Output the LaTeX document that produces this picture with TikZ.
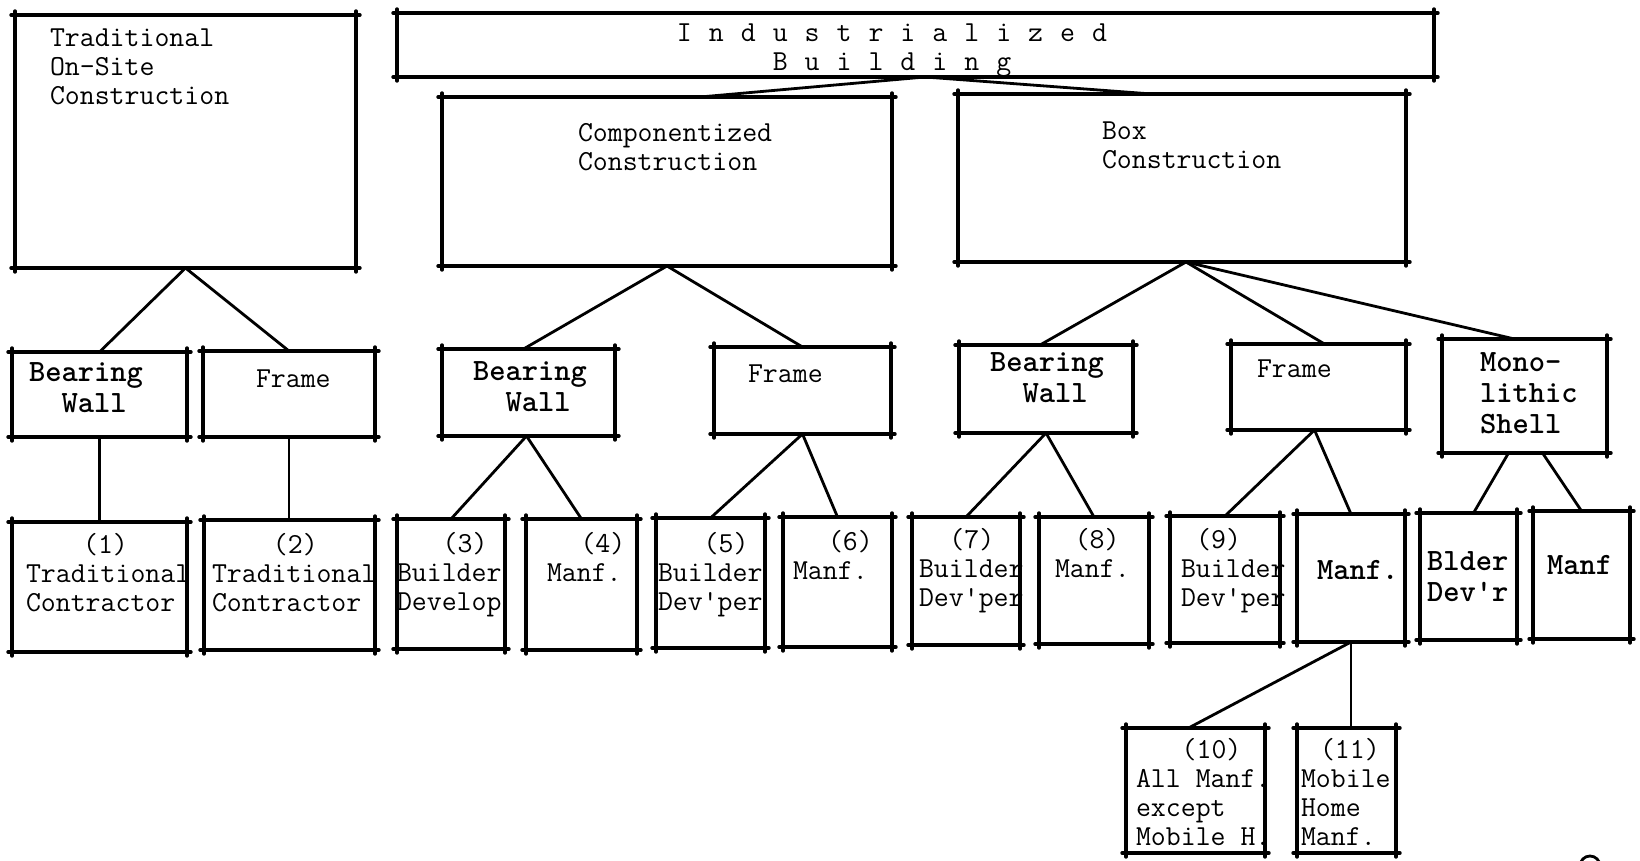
\documentclass[tikz,border=0pt]{standalone}
\usepackage{tikz}
\usetikzlibrary{fit}
\newcommand\tsp[1]{\hspace*{#1\dimexpr0.525em\relax}}
\newcommand\lsp{\hspace{17pt}}
\newcommand\qs{\textquotesingle}
\tikzset{
  frame/.style={line width=3.4pt, line cap=round},
  conn/.style={line width=2.8pt, line cap=round},
  tb/.style={inner sep=0pt, outer sep=0pt, draw=none,
    append after command={\pgfextra{\let\tbn\tikzlastnode}
      ([xshift=-4pt]\tbn.north west) edge[frame] ([xshift=4pt]\tbn.north east)
      ([xshift=-4pt]\tbn.south west) edge[frame] ([xshift=4pt]\tbn.south east)
      ([yshift=4pt]\tbn.north west) edge[frame] ([yshift=-4pt]\tbn.south west)
      ([yshift=4pt]\tbn.north east) edge[frame] ([yshift=-4pt]\tbn.south east)}},
  rt/.style={inner sep=0pt, outer sep=0pt, anchor=north west, align=left,
    font=\ttfamily\fontsize{29}{29}\selectfont},
  bt/.style={rt, font=\ttfamily\bfseries\fontsize{31}{31}\selectfont},
}
\newcommand\tbox[5]{\node[tb, fit={(#2,#3) (#4,#5)}] (#1) {};}
\begin{document}
\begin{tikzpicture}[x=1pt,y=-1pt]
\useasboundingbox (0,0) rectangle (1640,861);
% boxes
\tbox{trad}{15}{15}{356}{268}
\tbox{ind}{397}{13}{1434}{77}
\tbox{comp}{442}{97}{892}{266}
\tbox{boxc}{958}{94}{1406}{262}
\tbox{tbw}{12}{352}{187}{437}
\tbox{tfr}{203}{351}{375}{437}
\tbox{cbw}{442}{349}{615}{436}
\tbox{cfr}{714}{347}{891}{434}
\tbox{bbw}{959}{345}{1133}{433}
\tbox{bfr}{1231}{344}{1406}{430}
\tbox{mono}{1442}{339}{1607}{453}
\tbox{n1}{12}{522}{187}{652}
\tbox{n2}{204}{520}{375}{650}
\tbox{n3}{397}{519}{505}{649}
\tbox{n4}{526}{519}{637}{650}
\tbox{n5}{656}{518}{765}{648}
\tbox{n6}{783}{517}{892}{647}
\tbox{n7}{912}{517}{1020}{645}
\tbox{n8}{1039}{517}{1149}{644}
\tbox{n9}{1170}{516}{1280}{643}
\tbox{bman}{1297}{514}{1405}{642}
\tbox{bld}{1420}{513}{1517}{640}
\tbox{mman}{1533}{511}{1630}{639}
\tbox{n10}{1126}{728}{1265}{853}
\tbox{n11}{1297}{728}{1396}{853}
% texts
\node[rt] (ttrad) at (50,29) {Traditional\\On-Site\\Construction};
\node[rt, anchor=north, align=center] (tind) at (892,24)
  {I\lsp n\lsp d\lsp u\lsp s\lsp t\lsp r\lsp i\lsp a\lsp l\lsp i\lsp z\lsp e\lsp d\\
   B\lsp u\lsp i\lsp l\lsp d\lsp i\lsp n\lsp g};
\node[rt] (tcomp) at (578,123) {Componentized\\Construction};
\node[rt] (tboxc) at (1102,122) {Box\\Construction};
\node[bt] (ttbw) at (29,363) {Bearing\\\tsp{2}Wall};
\node[rt] (ttfr) at (256,370) {Frame};
\node[bt] (tcbw) at (473,362) {Bearing\\\tsp{2}Wall};
\node[rt] (tcfr) at (748,365) {Frame};
\node[bt] (tbbw) at (990,353) {Bearing\\\tsp{2}Wall};
\node[rt] (tbfr) at (1257,360) {Frame};
\node[bt] (tmono) at (1480,353) {Mono-\\lithic\\Shell};
\node[rt] (t1) at (26,533) {\tsp{3.75}(1)\\Traditional\\Contractor};
\node[rt] (t2) at (212,533) {\tsp{4}(2)\\Traditional\\Contractor};
\node[rt] (t3) at (397,532) {\tsp{3}(3)\\Builder\\Develop};
\node[rt] (t4) at (547,532) {\tsp{2.2}(4)\\Manf.};
\node[rt] (t5) at (658,532) {\tsp{3}(5)\\Builder\\Dev\qs per};
\node[rt] (t6) at (793,530) {\tsp{2.3}(6)\\Manf.};
\node[rt] (t7) at (919,528) {\tsp{2}(7)\\Builder\\Dev\qs per};
\node[rt] (t8) at (1055,528) {\tsp{1.3}(8)\\Manf.};
\node[rt] (t9) at (1181,528) {\tsp{1}(9)\\Builder\\Dev\qs per};
\node[bt] (tbman) at (1317,560) {Manf.};
\node[bt] (tbld) at (1427,552) {Blder\\Dev\qs r};
\node[bt] (tmman) at (1547,555) {Manf};
\node[rt] (t10) at (1136,738) {\tsp{3}(10)\\All Manf.\\except\\Mobile H.};
\node[rt] (t11) at (1301,738) {\tsp{1.25}(11)\\Mobile\\Home\\Manf.};
% connectors
\draw[conn] ([xshift=9.5pt]ind.south) -- ([xshift=33pt]comp.north);
\draw[conn] ([xshift=9.5pt]ind.south) -- ([xshift=-30pt]boxc.north);
\draw[conn] (trad.south) -- (tbw.north);
\draw[conn] (trad.south) -- (tfr.north);
\draw[conn] (tbw.south) -- (tbw.south |- n1.north);
\draw[conn] (tfr.south) -- (tfr.south |- n2.north);
\draw[conn] (comp.south) -- ([xshift=-5pt]cbw.north);
\draw[conn] (comp.south) -- (cfr.north);
\draw[conn] ([xshift=-2pt]cbw.south) -- (n3.north);
\draw[conn] ([xshift=-2pt]cbw.south) -- (n4.north);
\draw[conn] (cfr.south) -- (n5.north);
\draw[conn] (cfr.south) -- (n6.north);
\draw[conn] ([xshift=4pt]boxc.south) -- ([xshift=-6pt]bbw.north);
\draw[conn] ([xshift=4pt]boxc.south) -- ([xshift=6pt]bfr.north);
\draw[conn] ([xshift=4pt]boxc.south) -- ([xshift=-10pt]mono.north);
\draw[conn] (bbw.south) -- (n7.north);
\draw[conn] (bbw.south) -- (n8.north);
\draw[conn] ([xshift=-4pt]bfr.south) -- (n9.north);
\draw[conn] ([xshift=-4pt]bfr.south) -- (bman.north);
\draw[conn] ([xshift=-16pt]mono.south) -- ([xshift=5pt]bld.north);
\draw[conn] ([xshift=18pt]mono.south) -- (mman.north);
\draw[conn] (bman.south) -- ([xshift=-7pt]n10.north);
\draw[conn] (bman.south) -- (bman.south |- n11.north);
% mark at lower right, mostly cut off by the page edge
\draw[conn] (1580,866) arc[start angle=180, end angle=360, radius=10];
\end{tikzpicture}
\end{document}
